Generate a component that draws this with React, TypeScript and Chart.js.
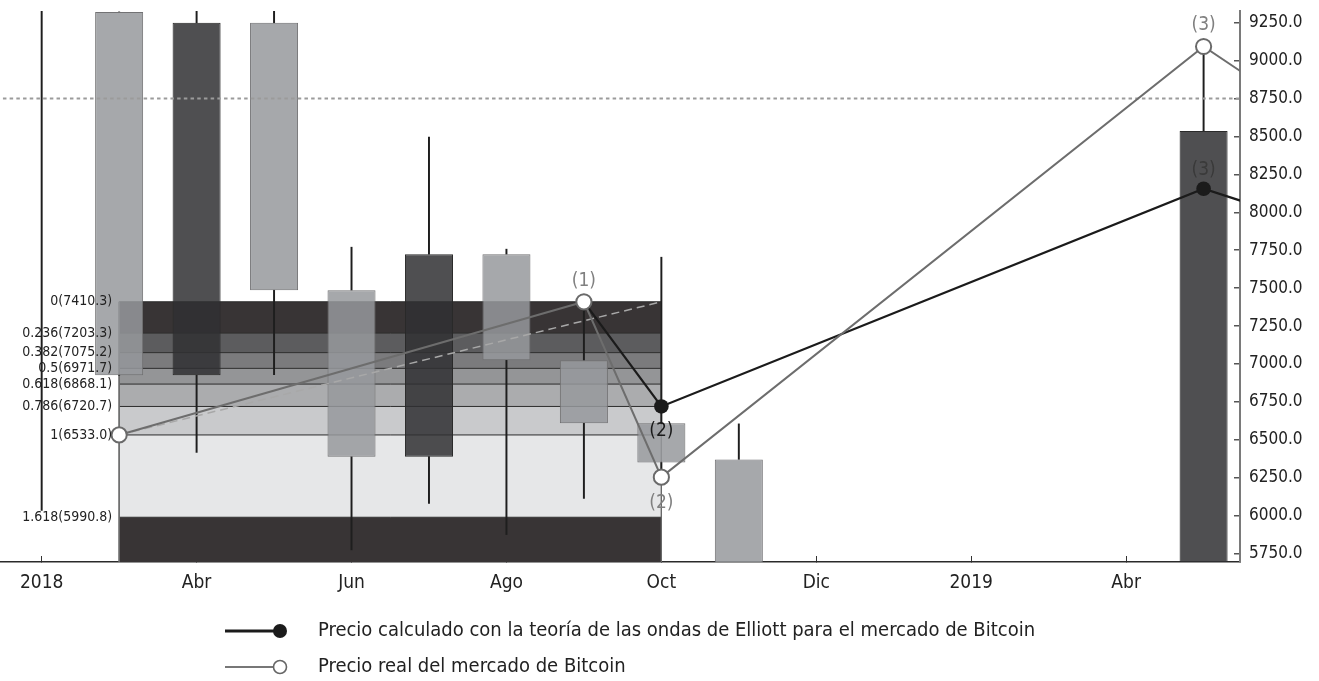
import React, { useEffect, useRef } from 'react';
import { Chart, registerables } from 'chart.js';

Chart.register(...registerables);

// ---------------- data ----------------
const MONTHS = ['Feb 2018', 'Mar 2018', 'Abr 2018', 'May 2018', 'Jun 2018', 'Jul 2018', 'Ago 2018', 'Sep 2018', 'Oct 2018', 'Nov 2018', 'Dic 2018', 'Ene 2019', 'Feb 2019', 'Mar 2019', 'Abr 2019', 'May 2019'];
const OPEN = [9800, 9320, 6926, 9248, 7487, 6390, 7724, 7025, 6610, 6372, null, null, null, null, null, 5300];
const HIGH = [11500, 9320, 9750, 9900, 7770, 8496, 7757, 7414, 7704, 6606, null, null, null, null, null, 9092];
const LOW = [6036, 6926, 6418, 6930, 5776, 6082, 5877, 6115, 6210, 3700, null, null, null, null, null, 5200];
const CLOSE = [10000, 6926, 9248, 7487, 6390, 7724, 7025, 6610, 6352, 4000, null, null, null, null, null, 8536];

const X_TICK_POS = [0, 2, 4, 6, 8, 10, 12, 14];
const X_TICK_LABELS = ['2018', 'Abr', 'Jun', 'Ago', 'Oct', 'Dic', '2019', 'Abr'];
const Y_TICKS = [5750, 6000, 6250, 6500, 6750, 7000, 7250, 7500, 7750, 8000, 8250, 8500, 8750, 9000, 9250];

const FIB_RATIOS = [0, 0.236, 0.382, 0.5, 0.618, 0.786, 1, 1.618];
const FIB_PRICES = [7410.3, 7203.3, 7075.2, 6971.7, 6868.1, 6720.7, 6533.0, 5990.8];
const FIB_START = 1;
const FIB_END = 8;

const REAL_X = [1, 7, 8, 15, 16];
const REAL_Y = [6533.0, 7410.3, 6255, 9092, 8750];
const REAL_TAGS = ['', '(1)', '(2)', '(3)', ''];
const REAL_TAG_ABOVE = [false, true, false, true, false];

const ELLIOTT_X = [7, 8, 15, 16];
const ELLIOTT_Y = [7410.3, 6720.7, 8155, 7990];
const ELLIOTT_TAGS = ['', '(2)', '(3)', ''];
const ELLIOTT_TAG_ABOVE = [false, false, true, false];

const PROJ_X = [1, 8];
const PROJ_Y = [6533.0, 7410.3];

const REF_LEVEL = 8750;

const LEGEND_LABELS = [
  'Precio calculado con la teoría de las ondas de Elliott para el mercado de Bitcoin',
  'Precio real del mercado de Bitcoin',
];

// ---------------- styles ----------------
const FONT = "'DejaVu Sans Condensed', 'DejaVu Sans', sans-serif";
const X_MIN = -0.538;
const X_MAX = 15.47;
const Y_MIN = 5696;
const Y_MAX = 9326;
const BAND_COLORS = ['#383435', '#5c5c5e', '#7b7b7d', '#949597', '#abacae', '#c9cacc', '#e6e7e8', '#383435'];
const UP_FILL = 'rgba(48,48,50,0.85)';
const UP_BORDER = '#2a2a2a';
const DOWN_FILL = 'rgba(151,153,156,0.85)';
const DOWN_BORDER = '#727274';
const REAL_COLOR = '#6d6d6d';
const ELLIOTT_COLOR = '#1b1b1b';
const LEGEND_FONT_SIZE = 20;
const LEGEND_ICON_W = 83;
const LEGEND_DX = 10;
const LEGEND_DY = 6;

function makeIcon(lineColor: string, lineW: number, fill: string, stroke: string, r: number) {
  const c = document.createElement('canvas');
  c.width = LEGEND_ICON_W;
  c.height = 18;
  const g = c.getContext('2d') as CanvasRenderingContext2D;
  g.strokeStyle = lineColor;
  g.lineWidth = lineW;
  g.beginPath();
  g.moveTo(0, 9);
  g.lineTo(55, 9);
  g.stroke();
  g.beginPath();
  g.arc(55, 9, r, 0, Math.PI * 2);
  g.fillStyle = fill;
  g.fill();
  if (stroke) {
    g.strokeStyle = stroke;
    g.lineWidth = 1.6;
    g.stroke();
  }
  return c;
}

const legendRows = {
  id: 'legendRows',
  beforeLayout(chart: any) {
    const lg = chart.legend;
    if (lg && !lg.__rowsPatched) {
      lg.__rowsPatched = true;
      const baseFit = lg.fit;
      lg.fit = function (this: any) {
        const full = this.maxWidth;
        this.maxWidth = 1;
        baseFit.call(this);
        this.maxWidth = full;
        this.width = full;
      };
    }
  },
  afterLayout(chart: any) {
    const lg = chart.legend;
    if (!lg || !lg.lineWidths) return;
    const pad = lg.options.labels.padding;
    const rowW = Math.max(...lg.lineWidths) - pad;
    const ca = chart.chartArea;
    const start = (ca.left + ca.right) / 2 - rowW / 2 + LEGEND_DX;
    lg.left = start - pad;
    lg.right = start + rowW + pad + 1;
    lg.width = lg.right - lg.left;
    lg.top += LEGEND_DY;
    lg.bottom += LEGEND_DY;
  },
};

const textLabels = {
  id: 'textLabels',
  afterDatasetsDraw(chart: any) {
    const { ctx, scales } = chart;
    const xs = scales.x;
    const ys = scales.y;
    ctx.save();
    // Fibonacci level labels
    ctx.font = `14px ${FONT}`;
    ctx.textAlign = 'right';
    ctx.textBaseline = 'middle';
    ctx.fillStyle = '#222';
    const bx = xs.getPixelForValue(FIB_START) - 7;
    FIB_RATIOS.forEach((r, i) => {
      ctx.fillText(`${r}(${FIB_PRICES[i].toFixed(1)})`, bx, ys.getPixelForValue(FIB_PRICES[i]));
    });
    // wave labels
    ctx.font = `19px ${FONT}`;
    ctx.textAlign = 'center';
    REAL_TAGS.forEach((t, i) => {
      if (!t) return;
      const px = xs.getPixelForValue(REAL_X[i]);
      const py = ys.getPixelForValue(REAL_Y[i]) + (REAL_TAG_ABOVE[i] ? -21 : 26);
      ctx.fillStyle = '#808080';
      ctx.fillText(t, px, py);
    });
    ELLIOTT_TAGS.forEach((t, i) => {
      if (!t) return;
      const px = xs.getPixelForValue(ELLIOTT_X[i]);
      const py = ys.getPixelForValue(ELLIOTT_Y[i]) + (ELLIOTT_TAG_ABOVE[i] ? -19 : 25);
      ctx.fillStyle = ELLIOTT_TAG_ABOVE[i] ? '#3a3a3a' : '#1a1a1a';
      ctx.fillText(t, px, py);
    });
    ctx.restore();
  },
};

export default function App() {
  const ref = useRef<HTMLCanvasElement>(null);

  useEffect(() => {
    document.body.style.margin = '0';
    const canvas = ref.current;
    if (!canvas) return;
    Chart.defaults.font.family = FONT;
    Chart.defaults.color = '#222';

    const idxs = MONTHS.map((_, i) => i).filter((i) => OPEN[i] != null);
    const isUp = (i: number) => (CLOSE[i] as number) > (OPEN[i] as number);
    const bodyTop = (i: number) => Math.max(OPEN[i] as number, CLOSE[i] as number);
    const bodyBot = (i: number) => Math.min(OPEN[i] as number, CLOSE[i] as number);

    const bandSets = FIB_PRICES.map((p, i) => ({
      type: 'line',
      label: `fib ${FIB_RATIOS[i]}`,
      data: [{ x: FIB_START, y: p }, { x: FIB_END, y: p }],
      borderColor: '#2b2b2b',
      borderWidth: 1,
      pointRadius: 0,
      backgroundColor: BAND_COLORS[i],
      fill: i < FIB_PRICES.length - 1 ? '+1' : 'start',
      order: 20,
      clip: 0,
    }));

    const edgeSets = [FIB_START, FIB_END].map((xv) => ({
      type: 'line',
      label: 'edge',
      data: [{ x: xv, y: FIB_PRICES[0] }, { x: xv, y: Y_MIN }],
      borderColor: '#6a6a6a',
      borderWidth: 1,
      pointRadius: 0,
      fill: false,
      order: 19,
      clip: 0,
    }));

    const wickStyle = {
      type: 'bar',
      backgroundColor: '#1e1e1e',
      borderWidth: 0,
      barThickness: 1.3,
      grouped: false,
      order: 15,
    };

    const iconE = makeIcon(ELLIOTT_COLOR, 3, ELLIOTT_COLOR, '', 7);
    const iconR = makeIcon('#777', 2, '#ffffff', '#666', 6.5);

    const datasets: any[] = [
      ...bandSets,
      ...edgeSets,
      {
        ...wickStyle,
        label: 'upper wicks',
        data: idxs.map((i) => ({ x: i, y: [bodyTop(i), HIGH[i]] })),
      },
      {
        ...wickStyle,
        label: 'lower wicks',
        data: idxs.map((i) => ({ x: i, y: [LOW[i], bodyBot(i)] })),
      },
      {
        type: 'bar',
        label: 'bodies',
        data: idxs.map((i) => ({ x: i, y: [OPEN[i], CLOSE[i]] })),
        backgroundColor: idxs.map((i) => (isUp(i) ? UP_FILL : DOWN_FILL)),
        borderColor: idxs.map((i) => (isUp(i) ? UP_BORDER : DOWN_BORDER)),
        borderWidth: 1,
        borderSkipped: false,
        barPercentage: 0.62,
        categoryPercentage: 1,
        grouped: false,
        order: 14,
      },
      {
        type: 'line',
        label: 'ref',
        data: [{ x: X_MIN - 1, y: REF_LEVEL }, { x: X_MAX + 1, y: REF_LEVEL }],
        borderColor: '#9b9b9b',
        borderWidth: 2,
        borderDash: [3.5, 3.2],
        pointRadius: 0,
        fill: false,
        order: 6,
        clip: 0,
      },
      {
        type: 'line',
        label: 'proj',
        data: PROJ_X.map((x, i) => ({ x, y: PROJ_Y[i] })),
        borderColor: '#a8a8a8',
        borderWidth: 1.5,
        borderDash: [8, 5],
        pointRadius: 0,
        fill: false,
        order: 5,
        clip: 0,
      },
      {
        type: 'line',
        label: LEGEND_LABELS[0],
        data: ELLIOTT_X.map((x, i) => ({ x, y: ELLIOTT_Y[i] })),
        borderColor: ELLIOTT_COLOR,
        borderWidth: 2.2,
        pointRadius: 7.3,
        pointBackgroundColor: ELLIOTT_COLOR,
        pointBorderColor: ELLIOTT_COLOR,
        pointBorderWidth: 0,
        fill: false,
        order: 3,
        clip: 0,
      },
      {
        type: 'line',
        label: LEGEND_LABELS[1],
        data: REAL_X.map((x, i) => ({ x, y: REAL_Y[i] })),
        borderColor: REAL_COLOR,
        borderWidth: 2,
        pointRadius: 7.6,
        pointBackgroundColor: '#ffffff',
        pointBorderColor: '#6a6a6a',
        pointBorderWidth: 2,
        fill: false,
        order: 2,
        clip: 0,
      },
    ];
    const eIdx = datasets.length - 2;
    const rIdx = datasets.length - 1;

    const chart = new Chart(canvas, {
      type: 'bar',
      data: { datasets },
      plugins: [legendRows, textLabels],
      options: {
        responsive: false,
        animation: false,
        events: [],
        layout: { autoPadding: false, padding: { top: 11, left: 0, right: 0, bottom: 0 } },
        scales: {
          x: {
            type: 'linear',
            min: X_MIN,
            max: X_MAX,
            offset: false,
            z: 1,
            grid: { display: true, drawOnChartArea: false, drawTicks: true, tickLength: -6, color: '#333', lineWidth: 1, offset: false },
            border: { display: true, color: '#2a2a2a', width: 1.5 },
            afterBuildTicks: (s: any) => {
              s.ticks = X_TICK_POS.map((v) => ({ value: v }));
            },
            ticks: {
              autoSkip: false,
              maxRotation: 0,
              padding: 16,
              color: '#222',
              font: { size: 19 },
              callback: (v: any) => {
                const k = X_TICK_POS.indexOf(Number(v));
                return k >= 0 ? X_TICK_LABELS[k] : '';
              },
            },
            afterFit: (s: any) => {
              s.height = 37;
              s.paddingLeft = 0;
              s.paddingRight = 0;
            },
          },
          y: {
            type: 'linear',
            position: 'right',
            min: Y_MIN,
            max: Y_MAX,
            beginAtZero: false,
            z: 1,
            grid: { display: true, drawOnChartArea: false, drawTicks: true, tickLength: -6, color: '#555', lineWidth: 1.5 },
            border: { display: true, color: '#7a7a7a', width: 2 },
            afterBuildTicks: (s: any) => {
              s.ticks = Y_TICKS.map((v) => ({ value: v }));
            },
            ticks: {
              padding: 15,
              color: '#222',
              font: { size: 17 },
              callback: (v: any) => Number(v).toFixed(1),
            },
            afterFit: (s: any) => {
              s.width = 79;
              s.paddingTop = 0;
              s.paddingBottom = 0;
            },
          },
        },
        plugins: {
          filler: { drawTime: 'beforeDatasetsDraw' },
          tooltip: { enabled: false },
          title: { display: false },
          legend: {
            display: true,
            position: 'bottom',
            align: 'start',
            labels: {
              usePointStyle: true,
              pointStyleWidth: LEGEND_ICON_W,
              padding: 16,
              color: '#222',
              font: { size: LEGEND_FONT_SIZE },
              generateLabels: () => [
                { text: LEGEND_LABELS[0], pointStyle: iconE, fillStyle: ELLIOTT_COLOR, strokeStyle: ELLIOTT_COLOR, lineWidth: 0, hidden: false, datasetIndex: eIdx, fontColor: '#222' },
                { text: LEGEND_LABELS[1], pointStyle: iconR, fillStyle: '#fff', strokeStyle: '#666', lineWidth: 0, hidden: false, datasetIndex: rIdx, fontColor: '#222' },
              ],
            },
          },
        },
      } as any,
    } as any);

    return () => chart.destroy();
  }, []);

  return (
    <div style={{ width: 1319, height: 681 }}>
      <canvas ref={ref} width={1319} height={681} style={{ display: 'block' }} />
    </div>
  );
}
